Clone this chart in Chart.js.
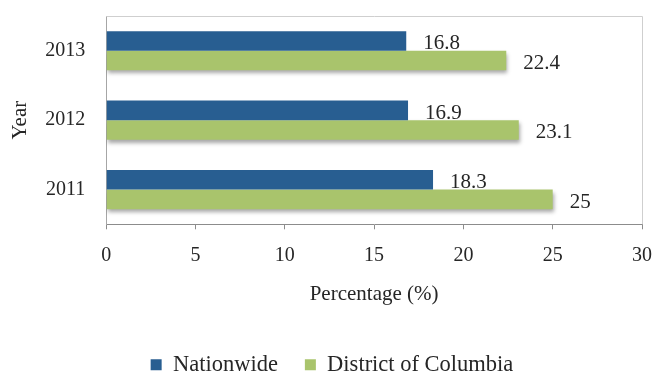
<!DOCTYPE html>
<html>
<head>
<meta charset="utf-8">
<script src="https://cdn.jsdelivr.net/npm/chart.js@4.4.1/dist/chart.umd.min.js"></script>
<style>
  html, body { margin: 0; padding: 0; background: #fff; overflow: hidden; }
  #wrap { width: 655px; height: 377px; overflow: hidden; }
</style>
</head>
<body>
<div id="wrap"><canvas id="myChart" width="655" height="386"></canvas></div>
<script>
var years = ['2013', '2012', '2011'];
var nationwide = [16.8, 16.9, 18.3];
var districtOfColumbia = [22.4, 23.1, 25];
var xTicks = [0, 5, 10, 15, 20, 25, 30];

var textColor = '#262626';
Chart.defaults.font.family = '"Liberation Serif", "Times New Roman", serif';
Chart.defaults.color = textColor;

// light grey top/right edges of the plot box
var plotFrame = {
  id: 'plotFrame',
  beforeDatasetsDraw: function (chart) {
    var a = chart.chartArea, ctx = chart.ctx;
    ctx.save();
    ctx.strokeStyle = '#cfcfcf';
    ctx.lineWidth = 1;
    ctx.beginPath();
    ctx.moveTo(a.left, Math.round(a.top) + 0.5);
    ctx.lineTo(Math.round(a.right) + 0.5, Math.round(a.top) + 0.5);
    ctx.lineTo(Math.round(a.right) + 0.5, a.bottom);
    ctx.stroke();
    ctx.restore();
  }
};

// value text next to each bar (drawn first so bars sit on top of it)
var valueLabels = {
  id: 'valueLabels',
  beforeDatasetsDraw: function (chart) {
    var ctx = chart.ctx;
    ctx.save();
    ctx.font = '21px "Liberation Serif", serif';
    ctx.fillStyle = textColor;
    ctx.textAlign = 'left';
    ctx.textBaseline = 'middle';
    chart.data.datasets.forEach(function (ds, i) {
      chart.getDatasetMeta(i).data.forEach(function (bar, j) {
        ctx.fillText(String(ds.data[j]), bar.x + 17, bar.y + 3);
      });
    });
    ctx.restore();
  }
};

// soft drop shadow under the green bars
var barShadow = {
  id: 'barShadow',
  beforeDatasetDraw: function (chart, args) {
    var ctx = chart.ctx;
    ctx.save();
    if (args.index === 1) {
      ctx.shadowColor = 'rgba(0, 0, 0, 0.35)';
      ctx.shadowBlur = 4;
      ctx.shadowOffsetX = 1;
      ctx.shadowOffsetY = 3;
    }
  },
  afterDatasetDraw: function (chart) {
    chart.ctx.restore();
  }
};

// centre the legend on the whole canvas, not just the padded area
var legendShift = {
  id: 'legendShift',
  afterLayout: function (chart) {
    chart.legend.left += 11;
    chart.legend.right += 11;
  }
};

var ctx = document.getElementById('myChart').getContext('2d');
var chart = new Chart(ctx, {
  type: 'bar',
  data: {
    labels: years,
    datasets: [
      { label: 'Nationwide', data: nationwide, backgroundColor: '#285e91' },
      { label: 'District of Columbia', data: districtOfColumbia, backgroundColor: '#a9c46c' }
    ]
  },
  options: {
    indexAxis: 'y',
    responsive: false,
    animation: false,
    datasets: {
      bar: { categoryPercentage: 0.563, barPercentage: 1 }
    },
    layout: {
      padding: { top: 16, right: 13, bottom: 0, left: 0 }
    },
    scales: {
      x: {
        min: xTicks[0],
        max: xTicks[xTicks.length - 1],
        ticks: { stepSize: xTicks[1] - xTicks[0], padding: 14.5, font: { size: 20 } },
        grid: { drawOnChartArea: false, tickLength: 5, color: '#8c8c8c' },
        border: { color: '#8c8c8c' },
        title: {
          display: true,
          text: 'Percentage (%)',
          font: { size: 21 },
          padding: { top: 0, bottom: 19 }
        },
        // the tick padding would otherwise widen the right margin
        afterFit: function (scale) { scale.paddingRight = 0; }
      },
      y: {
        ticks: { padding: 0, font: { size: 20 } },
        grid: { drawOnChartArea: false, tickLength: 21, tickColor: 'rgba(0,0,0,0)' },
        border: { color: '#a6a6a6' },
        title: {
          display: true,
          text: 'Year',
          font: { size: 21 },
          padding: { top: 8, bottom: 12 }
        }
      }
    },
    plugins: {
      legend: {
        position: 'bottom',
        labels: { boxWidth: 11, boxHeight: 11, padding: 27, font: { size: 22.5 } }
      },
      tooltip: { enabled: false }
    }
  },
  plugins: [plotFrame, valueLabels, barShadow, legendShift]
});
</script>
</body>
</html>
